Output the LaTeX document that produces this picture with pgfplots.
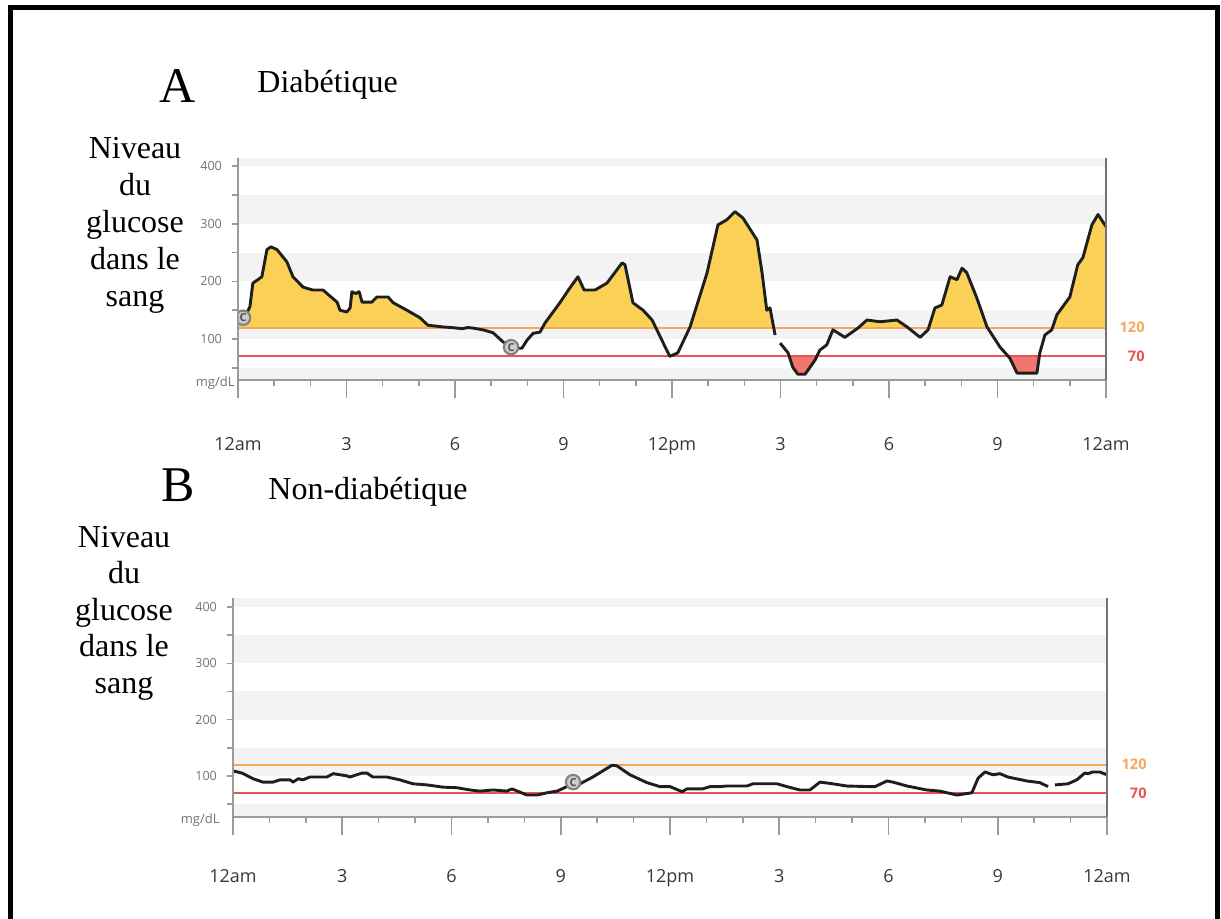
\documentclass[border=0pt]{standalone}
\usepackage{fontspec}
\setmainfont{Liberation Serif}
\newfontfamily\osans{Open Sans}
\usepackage{pgfplots}
\usepackage{pgfplotstable}
\pgfplotsset{compat=1.18}

\definecolor{yel}{RGB}{250,208,86}
\definecolor{salmon}{RGB}{240,118,110}
\definecolor{orgline}{RGB}{245,168,92}
\definecolor{redline}{RGB}{236,84,78}
\definecolor{band}{RGB}{243,243,243}
\definecolor{axgray}{RGB}{155,155,155}
\definecolor{axdark}{RGB}{115,115,115}
\definecolor{ticklab}{RGB}{55,55,55}
\definecolor{ylab}{RGB}{115,115,115}
\definecolor{cgray}{RGB}{130,130,130}
\definecolor{cfill}{RGB}{205,205,205}
\definecolor{curve}{RGB}{30,30,30}

\pgfplotstableread{
h v
0.00 130
0.14 133
0.33 156
0.41 197
0.55 203
0.66 208
0.80 255
0.91 260
1.08 255
1.35 234
1.52 208
1.80 190
2.07 185
2.35 185
2.74 164
2.82 150
3.01 147
3.10 154
3.15 182
3.25 179
3.35 182
3.43 164
3.70 164
3.84 173
4.15 173
4.29 163
4.67 150
5.03 137
5.25 124
5.67 121
5.90 120
6.05 119
6.20 118
6.35 120
6.50 119
6.77 116
7.05 111
7.33 95
7.58 84
7.85 84
7.99 98
8.16 110
8.35 112
8.49 128
8.90 163
9.18 189
9.40 208
9.57 185
9.87 185
10.20 197
10.62 232
10.70 229
10.92 163
11.20 150
11.45 133
11.72 98
11.94 70
12.16 76
12.50 121
12.97 215
13.27 298
13.52 307
13.74 321
13.96 310
14.35 272
14.49 215
14.62 150
14.71 154
14.85 107
}\segA

\pgfplotstableread{
h v
14.99 93
15.21 76
15.34 51
15.48 39
15.68 39
15.95 63
16.09 81
16.28 90
16.45 116
16.78 103
17.14 119
17.39 133
17.75 130
18.22 133
18.50 121
18.86 103
19.08 116
19.27 154
19.46 159
19.69 208
19.88 203
20.02 223
20.15 215
20.43 171
20.71 121
21.07 86
21.34 67
21.54 41
22.09 41
22.17 76
22.31 107
22.50 116
22.64 142
23.00 173
23.22 229
23.36 241
23.61 298
23.78 316
24.00 295
}\segB

\pgfplotstableread{
h v
0.00 109
0.25 105
0.55 95
0.82 89
1.10 89
1.29 93
1.57 93
1.65 89
1.79 95
1.92 93
2.11 98
2.58 98
2.75 104
3.13 100
3.21 98
3.54 105
3.68 105
3.84 98
4.23 98
4.58 93
4.94 86
5.33 84
5.77 80
6.15 79
6.51 75
6.78 73
7.14 75
7.52 73
7.66 77
8.07 66
8.35 66
8.62 70
8.90 73
9.17 81
9.53 86
9.88 98
10.41 119
10.54 118
10.90 102
11.37 88
11.72 81
12.00 81
12.33 72
12.47 77
12.90 77
13.10 81
13.37 81
13.55 82
14.11 82
14.28 86
14.94 86
15.21 81
15.57 75
15.84 75
16.12 89
16.47 86
16.86 82
17.49 81
17.63 81
17.96 91
18.12 89
18.51 82
19.05 75
19.41 73
19.88 66
20.29 70
20.46 96
20.65 107
20.87 102
21.06 104
21.28 98
21.80 91
22.16 88
22.38 81
}\segC

\pgfplotstableread{
h v
22.57 84
22.93 86
23.17 93
23.39 105
23.48 104
23.61 107
23.80 107
24.00 102
}\segD

\pgfplotsset{
  glucose/.style={
    scale only axis,
    xmin=0, xmax=24,
    clip mode=individual,
    axis line style={draw=none},
    tick align=outside,
    xtick={0,3,...,24},
    xticklabels={12am,3,6,9,12pm,3,6,9,12am},
    minor xtick={1,2,4,5,7,8,10,11,13,14,16,17,19,20,22,23},
    ytick={100,200,300,400},
    minor ytick={50,100,...,400},
    xtick pos=left, ytick pos=left,
    major tick length=9pt, minor tick length=3pt,
    tick style={axgray, line width=0.8pt},
    every major y tick/.style={draw=none},
    /pgf/number format/assume math mode=true,
    xticklabel style={font=\osans\fontsize{9}{9}\selectfont, text=ticklab, anchor=base},
    yticklabel style={font=\osans\fontsize{6.3}{6.3}\selectfont, text=ylab, xshift=4.5pt},
  },
  curveline/.style={draw=curve, line width=1.45pt, line join=round, no marks},
  cmark/.style={only marks, mark=*, mark size=3.6pt,
    mark options={draw=cgray, fill=cfill, line width=1.1pt},
    nodes near coords={C},
    every node near coord/.append style={anchor=center, inner sep=0pt,
      font=\osans\bfseries\fontsize{5.5}{5.5}\selectfont, text=cgray!60!black}},
}

\begin{document}
\begin{tikzpicture}
\path[use as bounding box] (0pt,0pt) rectangle (610.5pt,-459.5pt);

% frame
\draw[line width=2.5pt] (5.25pt,-460pt) -- (5.25pt,-3.75pt) -- (608.5pt,-3.75pt) -- (608.5pt,-460pt);

% titles A
\node[anchor=base, inner sep=0pt, font=\fontsize{25}{25}\selectfont] at (89pt,-51.5pt) {A};
\node[anchor=base west, inner sep=0pt, font=\fontsize{16}{16}\selectfont] at (128.5pt,-46.5pt) {Diabétique};
\begin{scope}[every node/.style={anchor=base, inner sep=0pt, font=\fontsize{16}{16}\selectfont}]
\node at (67.5pt,-79.5pt) {Niveau};
\node at (67.5pt,-98pt) {du};
\node at (67.5pt,-116.5pt) {glucose};
\node at (67.5pt,-135pt) {dans le};
\node at (67.5pt,-153.5pt) {sang};
\end{scope}

% titles B
\node[anchor=base, inner sep=0pt, font=\fontsize{25}{25}\selectfont] at (89pt,-251pt) {B};
\node[anchor=base west, inner sep=0pt, font=\fontsize{16}{16}\selectfont] at (134pt,-250pt) {Non-diabétique};
\begin{scope}[every node/.style={anchor=base, inner sep=0pt, font=\fontsize{16}{16}\selectfont}]
\node at (62pt,-273.5pt) {Niveau};
\node at (62pt,-291.75pt) {du};
\node at (62pt,-310pt) {glucose};
\node at (62pt,-328.25pt) {dans le};
\node at (62pt,-346.5pt) {sang};
\end{scope}

% ---------- Top chart ----------
\begin{axis}[glucose,
  at={(119pt,-190pt)}, anchor=south west,
  width=434pt, height=111pt,
  ymin=29, ymax=414,
  xticklabel style={yshift=-26pt},
]
\fill[band] (axis cs:0,29) rectangle (axis cs:24,50);
\fill[band] (axis cs:0,100) rectangle (axis cs:24,150);
\fill[band] (axis cs:0,200) rectangle (axis cs:24,250);
\fill[band] (axis cs:0,300) rectangle (axis cs:24,350);
\fill[band] (axis cs:0,400) rectangle (axis cs:24,414);

\begin{scope}
\clip (axis cs:0,120) rectangle (axis cs:24,414);
\addplot[draw=none, fill=yel, forget plot] table[x=h, y=v] {\segA} \closedcycle;
\addplot[draw=none, fill=yel, forget plot] table[x=h, y=v] {\segB} \closedcycle;
\end{scope}
\begin{scope}
\clip (axis cs:0,29) rectangle (axis cs:24,70);
\addplot[draw=none, fill=salmon, forget plot] table[x=h, y=v] {\segB} -- (axis cs:24,414) -- (axis cs:14.99,414) -- cycle;
\end{scope}

\addplot[orgline, line width=1pt, forget plot] coordinates {(0,120) (24,120)};
\addplot[redline, line width=1pt, forget plot] coordinates {(0,70) (24,70)};

\addplot[curveline] table[x=h, y=v] {\segA};
\addplot[curveline] table[x=h, y=v] {\segB};
\begin{scope}
\clip (axis cs:0,29) rectangle (axis cs:24,414);
\addplot[cmark] coordinates {(0.14,137) (7.55,86)};
\end{scope}

\draw[axgray, line width=1.2pt] (rel axis cs:0,1) -- (rel axis cs:0,0) -- (rel axis cs:1,0);
\draw[axdark, line width=1.2pt] (rel axis cs:1,0) -- (rel axis cs:1,1);

\node[anchor=east, inner sep=0pt, text=orgline, font=\osans\bfseries\fontsize{7.3}{7.3}\selectfont] at (axis cs:24,120) [xshift=19.5pt] {120};
\node[anchor=east, inner sep=0pt, text=redline, font=\osans\bfseries\fontsize{7.3}{7.3}\selectfont] at (axis cs:24,70) [xshift=19.5pt] {70};
\node[anchor=east, inner sep=0pt, text=ylab, font=\osans\fontsize{6.5}{6.5}\selectfont] at (rel axis cs:0,0) [xshift=-1.5pt, yshift=-1.5pt] {mg/dL};
\end{axis}

% ---------- Bottom chart ----------
\begin{axis}[glucose,
  at={(116.5pt,-408.5pt)}, anchor=south west,
  width=437pt, height=109.5pt,
  ymin=27, ymax=416,
  xticklabel style={yshift=-23.5pt},
]
\fill[band] (axis cs:0,27) rectangle (axis cs:24,50);
\fill[band] (axis cs:0,100) rectangle (axis cs:24,150);
\fill[band] (axis cs:0,200) rectangle (axis cs:24,250);
\fill[band] (axis cs:0,300) rectangle (axis cs:24,350);
\fill[band] (axis cs:0,400) rectangle (axis cs:24,416);

\addplot[orgline, line width=1pt, forget plot] coordinates {(0,120) (24,120)};
\addplot[redline, line width=1pt, forget plot] coordinates {(0,70) (24,70)};

\addplot[curveline] table[x=h, y=v] {\segC};
\addplot[curveline] table[x=h, y=v] {\segD};
\addplot[cmark] coordinates {(9.34,89)};

\draw[axgray, line width=1.2pt] (rel axis cs:0,1) -- (rel axis cs:0,0) -- (rel axis cs:1,0);
\draw[axdark, line width=1.2pt] (rel axis cs:1,0) -- (rel axis cs:1,1);

\node[anchor=east, inner sep=0pt, text=orgline, font=\osans\bfseries\fontsize{7.3}{7.3}\selectfont] at (axis cs:24,120) [xshift=20pt] {120};
\node[anchor=east, inner sep=0pt, text=redline, font=\osans\bfseries\fontsize{7.3}{7.3}\selectfont] at (axis cs:24,70) [xshift=20pt] {70};
\node[anchor=east, inner sep=0pt, text=ylab, font=\osans\fontsize{6.5}{6.5}\selectfont] at (rel axis cs:0,0) [xshift=-6.5pt, yshift=-1.5pt] {mg/dL};
\end{axis}
\end{tikzpicture}
\end{document}
